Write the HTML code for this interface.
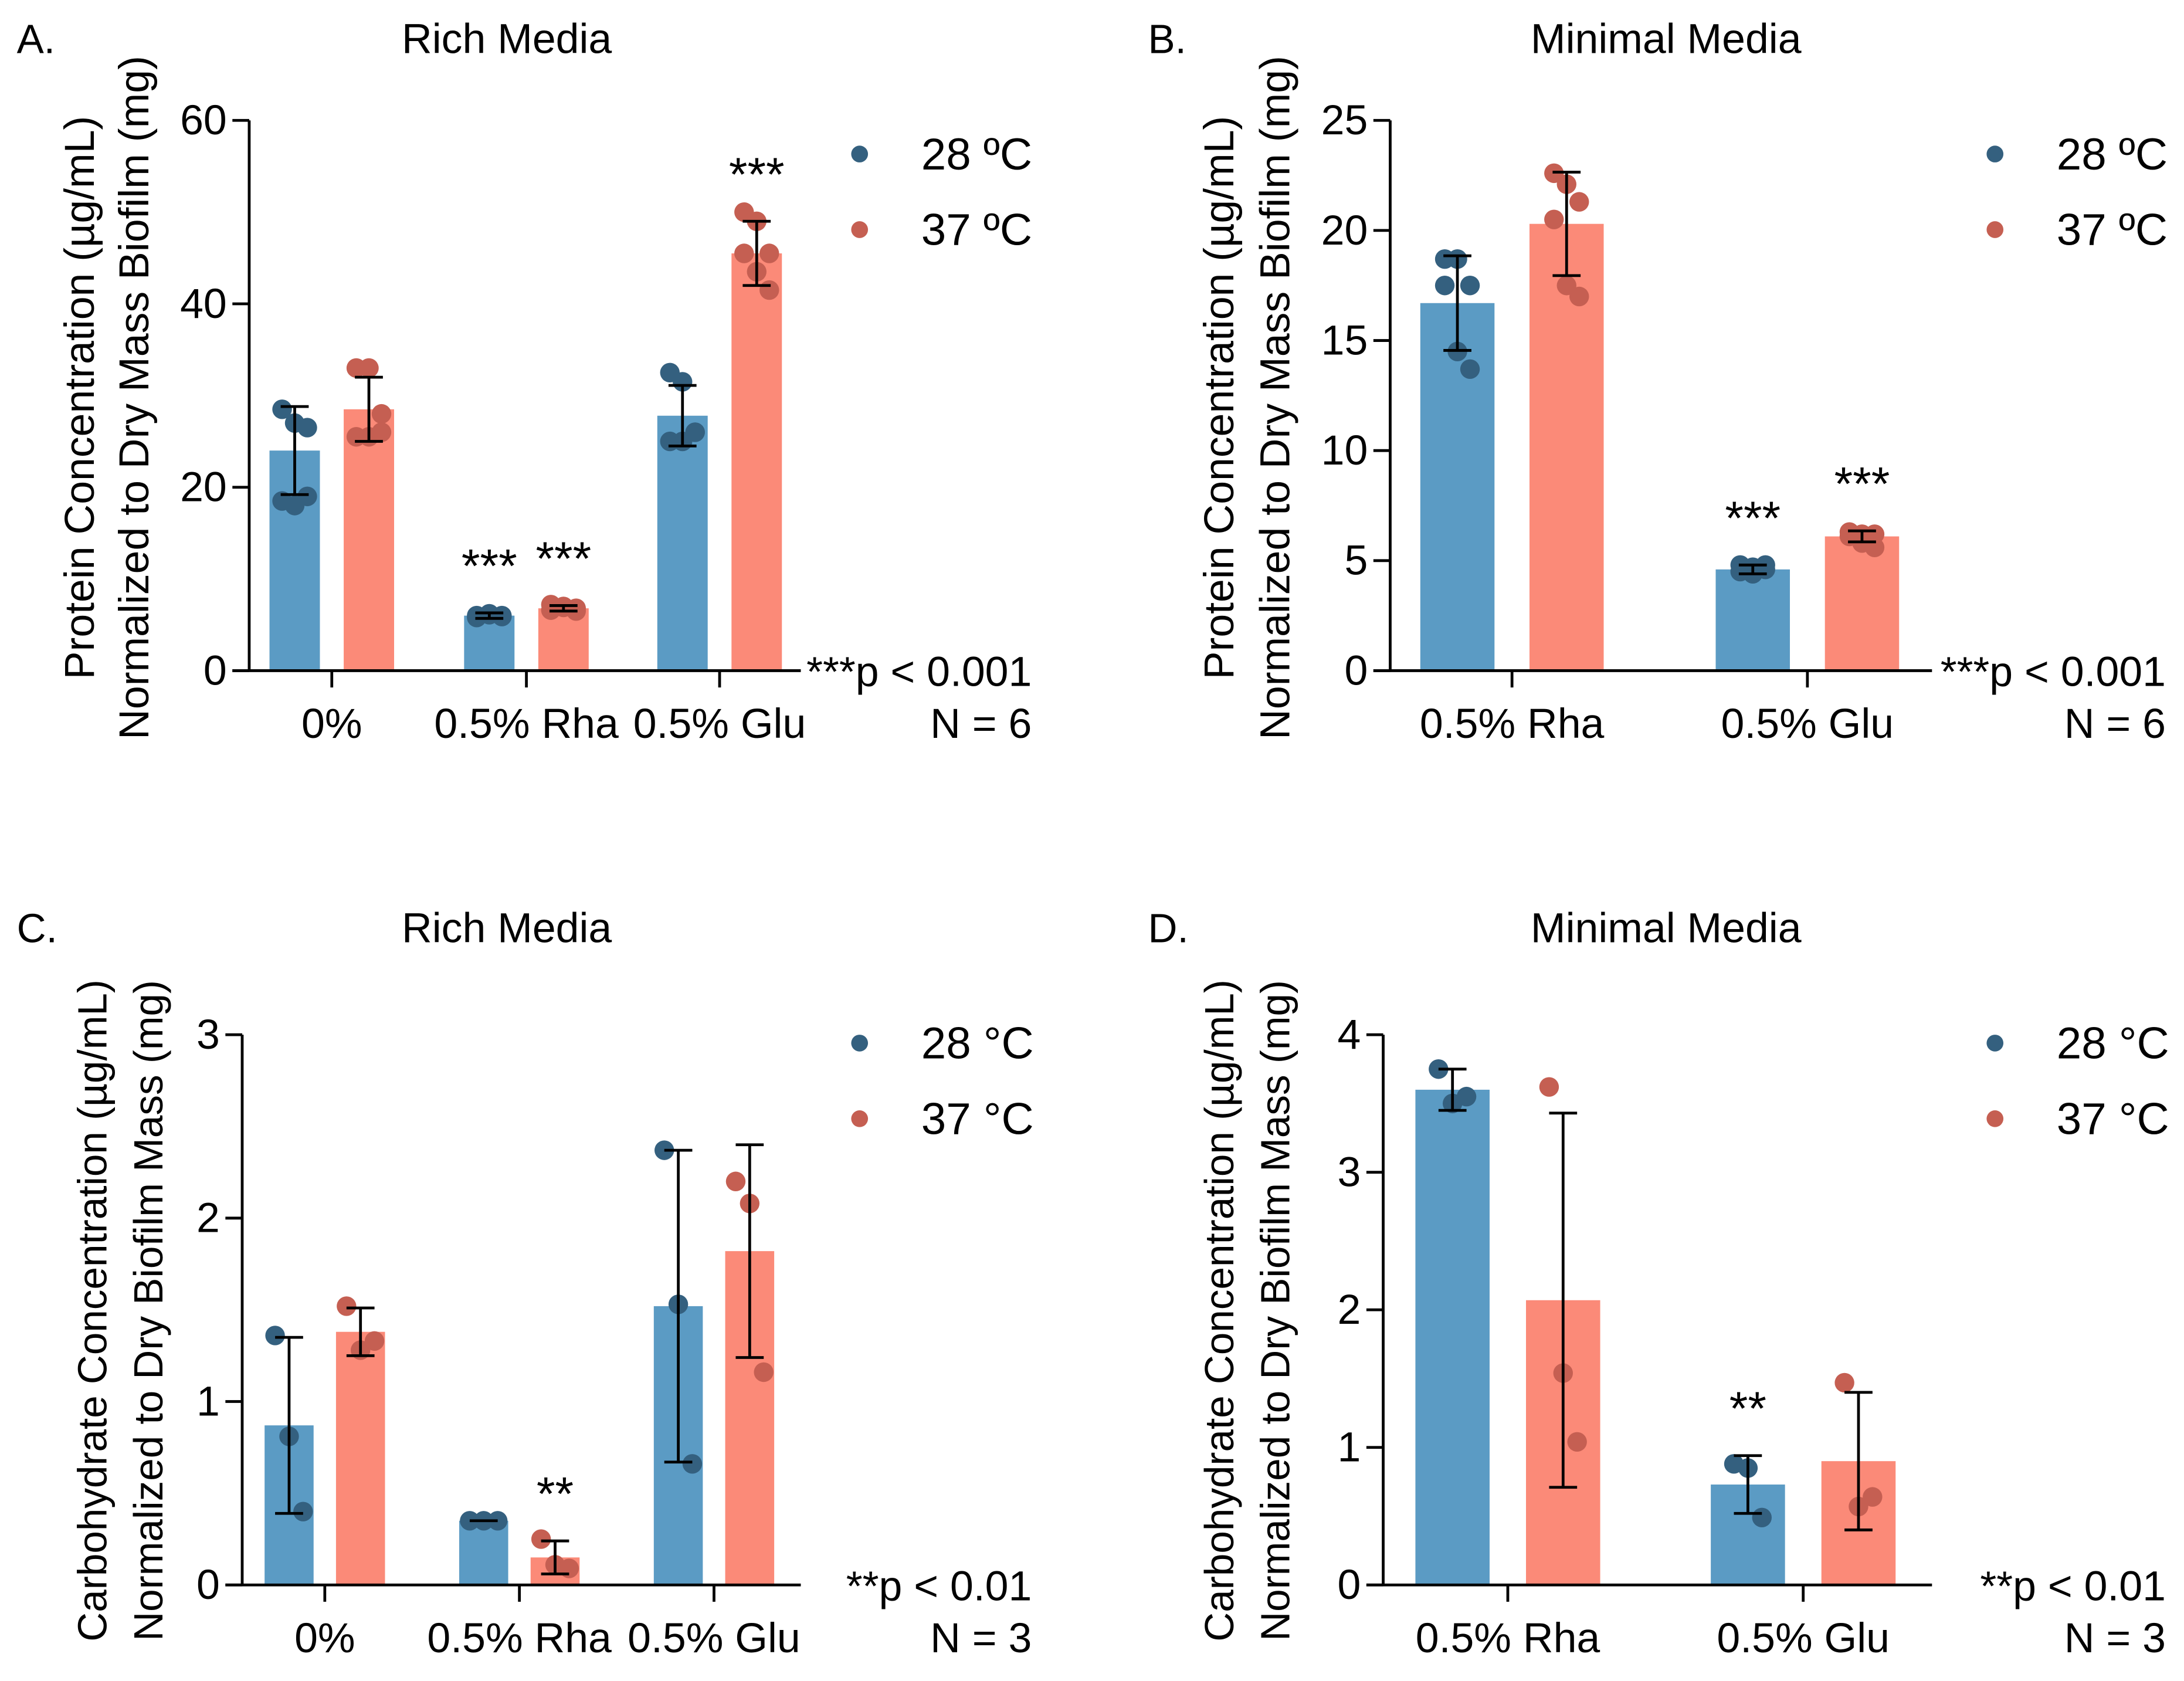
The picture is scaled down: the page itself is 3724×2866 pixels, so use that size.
<!DOCTYPE html>
<html><head><meta charset="utf-8"><style>
html,body{margin:0;padding:0;background:#fff}
svg{display:block}
text{font-family:"Liberation Sans",Arial,sans-serif;fill:#000}
</style></head><body>
<svg id="fig" width="3724" height="2866" viewBox="0 0 1560 1200.6" preserveAspectRatio="none" xmlns="http://www.w3.org/2000/svg"></svg>
<script>
// Panel A data (Protein, rich media)
const catsA = ["0%","0.5% Rha","0.5% Glu"];
const meanA28 = [24, 6, 27.8];
const meanA37 = [28.5, 6.8, 45.5];
const errA28 = [4.8, 0.3, 3.3];
const errA37 = [3.5, 0.3, 3.5];
const ptsA28 = [[28.5,27,26.5,18.5,18,19],[6,6.2,6,5.8,6.1,5.9],[32.5,31.5,26,25,25,26]];
const ptsA37 = [[33,33,28,25.5,25.5,26],[7.2,7,6.8,6.6,6.9,6.5],[50,49,45.5,45.5,43.5,41.5]];
const starsA = [["",""],["***","***"],["","***"]];
// Panel B data (Protein, minimal media)
const catsB = ["0.5% Rha","0.5% Glu"];
const meanB28 = [16.7, 4.6];
const meanB37 = [20.3, 6.1];
const errB28 = [2.15, 0.2];
const errB37 = [2.35, 0.25];
const ptsB28 = [[18.7,18.7,17.5,17.5,14.5,13.7],[4.8,4.7,4.6,4.5,4.4,4.8]];
const ptsB37 = [[22.6,22.1,21.3,20.5,17.5,17.0],[6.3,6.2,6.2,6.1,5.8,5.6]];
const starsB = [["",""],["***","***"]];
// Panel C data (Carbohydrate, rich media)
const catsC = ["0%","0.5% Rha","0.5% Glu"];
const meanC28 = [0.87, 0.35, 1.52];
const meanC37 = [1.38, 0.15, 1.82];
const errC28 = [0.48, 0.0, 0.85];
const errC37 = [0.13, 0.09, 0.58];
const ptsC28 = [[1.36,0.81,0.4],[0.35,0.35,0.35],[2.37,1.53,0.66]];
const ptsC37 = [[1.52,1.28,1.33],[0.25,0.11,0.09],[2.2,2.08,1.16]];
const starsC = [["",""],["","**"],["",""]];
// Panel D data (Carbohydrate, minimal media)
const catsD = ["0.5% Rha","0.5% Glu"];
const meanD28 = [3.6, 0.73];
const meanD37 = [2.07, 0.9];
const errD28 = [0.15, 0.21];
const errD37 = [1.36, 0.5];
const ptsD28 = [[3.75,3.5,3.55],[0.88,0.85,0.49]];
const ptsD37 = [[3.62,1.54,1.04],[1.47,0.57,0.64]];
const starsD = [["",""],["**",""]];

const NS="http://www.w3.org/2000/svg";
const svg=document.getElementById('fig');
function mk(tag,attrs,parent,txt){const e=document.createElementNS(NS,tag);for(const k in attrs)e.setAttribute(k,attrs[k]);if(txt!==undefined)e.textContent=txt;(parent||svg).appendChild(e);return e;}
const C={b:"#5b9bc4",bd:"#34607f",r:"#fb8a78",rd:"#c55f52"};

function panel(o){
  const g=mk('g',{});
  
  
  const y=v=>o.y0-(v/o.ymax)*(o.y0-o.ytop);
  let t=mk('text',{x:o.lx,y:o.ty,'font-size':29},g,o.id+'.');
  
  t=mk('text',{x:o.tx,y:o.ty,'font-size':30,'text-anchor':'middle'},g,o.title);
  
  const cy=o.ycy;
  o.ylab.forEach((s,i)=>{const tt=mk('text',{x:0,y:0,'font-size':o.yfs,'text-anchor':'middle',transform:`translate(${o.yl[i]},${cy}) rotate(-90)`},g,s);
    });
  o.cats.forEach((c,i)=>{
    [[o.m28,o.e28,o.p28,C.b,C.bd,-1,'28'],[o.m37,o.e37,o.p37,C.r,C.rd,1,'37']].forEach(([m,e,p,col,dc,s,lab],k)=>{
      const cx=o.cx[i]+s*o.off;
      const b=mk('rect',{x:cx-o.bw/2,y:y(m[i]),width:o.bw,height:o.y0-y(m[i]),fill:col},g);
      
      const jit=[-9,0,9,-9,0,9];
      p[i].forEach((v,j)=>{const jj=p[i].length===3?[-10,0,10][j]:jit[j];
        const d=mk('circle',{cx:cx+jj,cy:y(v),r:7,fill:dc},g);
        });
      const lo=y(m[i]-e[i]),hi=y(m[i]+e[i]);
      const eb=mk('path',{d:`M${cx} ${lo}V${hi}M${cx-10} ${hi}H${cx+10}M${cx-10} ${lo}H${cx+10}`,stroke:'#000','stroke-width':2,fill:'none'},g);
      
      const st=o.stars[i][k];
      if(st){const sx=mk('text',{x:cx,y:hi-22,'font-size':34,'text-anchor':'middle'},g,st);
        }
    });
    const tk=mk('line',{x1:o.cx[i],x2:o.cx[i],y1:o.y0,y2:o.y0+12,stroke:'#000','stroke-width':2},g);
    
    const xl=mk('text',{x:o.cx[i],y:o.y0+48,'font-size':30,'text-anchor':'middle'},g,c);
    
  });
  const ax=mk('path',{d:`M${o.ax} ${o.ytop}V${o.y0}M${o.ax-12} ${o.y0}H${o.xend}`,stroke:'#000','stroke-width':2,fill:'none'},g);
  
  o.ticks.forEach(v=>{
    const l=mk('line',{x1:o.ax-12,x2:o.ax,y1:y(v),y2:y(v),stroke:'#000','stroke-width':2},g);
    
    const tl=mk('text',{x:o.ax-16,y:y(v)+10,'font-size':30,'text-anchor':'end'},g,String(v));
    
  });
  [['28 '+o.deg+'C',C.bd,o.ty+72],['37 '+o.deg+'C',C.rd,o.ty+126]].forEach(([s,col,yy])=>{
    const d=mk('circle',{cx:o.legx,cy:yy,r:6,fill:col},g);
    
    const lt=mk('text',{x:o.legx+44,y:yy+11,'font-size':32},g,s);
    
  });
  const pn=mk('text',{x:o.rx,y:o.y0+11,'font-size':30,'text-anchor':'end'},g,o.pt);
  
  const nn=mk('text',{x:o.rx,y:o.y0+48,'font-size':30,'text-anchor':'end'},g,o.n);
  
}
const yl1=["Protein Concentration (µg/mL)","Normalized to Dry Mass Biofilm (mg)"];
const yl2=["Carbohydrate Concentration (µg/mL)","Normalized to Dry Biofilm Mass (mg)"];
panel({id:'A',title:'Rich Media',lx:12,tx:362,ty:38,ytop:86,y0:479,ymax:60,ticks:[0,20,40,60],ax:178,xend:572,
 cats:catsA,cx:[237,376,514],off:26.5,bw:36,m28:meanA28,m37:meanA37,e28:errA28,e37:errA37,p28:ptsA28,p37:ptsA37,stars:starsA,
 ylab:yl1,yl:[67,106],ycy:284,yfs:30,legx:614,rx:737,pt:'***p < 0.001',n:'N = 6',deg:'º'});
panel({id:'B',title:'Minimal Media',lx:820,tx:1190,ty:38,ytop:86,y0:479,ymax:25,ticks:[0,5,10,15,20,25],ax:993,xend:1380,
 cats:catsB,cx:[1080,1291],off:39,bw:53,m28:meanB28,m37:meanB37,e28:errB28,e37:errB37,p28:ptsB28,p37:ptsB37,stars:starsB,
 ylab:yl1,yl:[881,921],ycy:284,yfs:30,legx:1425,rx:1547,pt:'***p < 0.001',n:'N = 6',deg:'º'});
panel({id:'C',title:'Rich Media',lx:12,tx:362,ty:673,ytop:739,y0:1132,ymax:3,ticks:[0,1,2,3],ax:173,xend:572,
 cats:catsC,cx:[232,371,510],off:25.5,bw:35,m28:meanC28,m37:meanC37,e28:errC28,e37:errC37,p28:ptsC28,p37:ptsC37,stars:starsC,
 ylab:yl2,yl:[76,116],ycy:936,yfs:29,legx:614,rx:737,pt:'**p < 0.01',n:'N = 3',deg:'°'});
panel({id:'D',title:'Minimal Media',lx:820,tx:1190,ty:673,ytop:739,y0:1132,ymax:4,ticks:[0,1,2,3,4],ax:988,xend:1380,
 cats:catsD,cx:[1077,1288],off:39.5,bw:53,m28:meanD28,m37:meanD37,e28:errD28,e37:errD37,p28:ptsD28,p37:ptsD37,stars:starsD,
 ylab:yl2,yl:[881,921],ycy:936,yfs:29,legx:1425,rx:1547,pt:'**p < 0.01',n:'N = 3',deg:'°'});
</script>
</body></html>
